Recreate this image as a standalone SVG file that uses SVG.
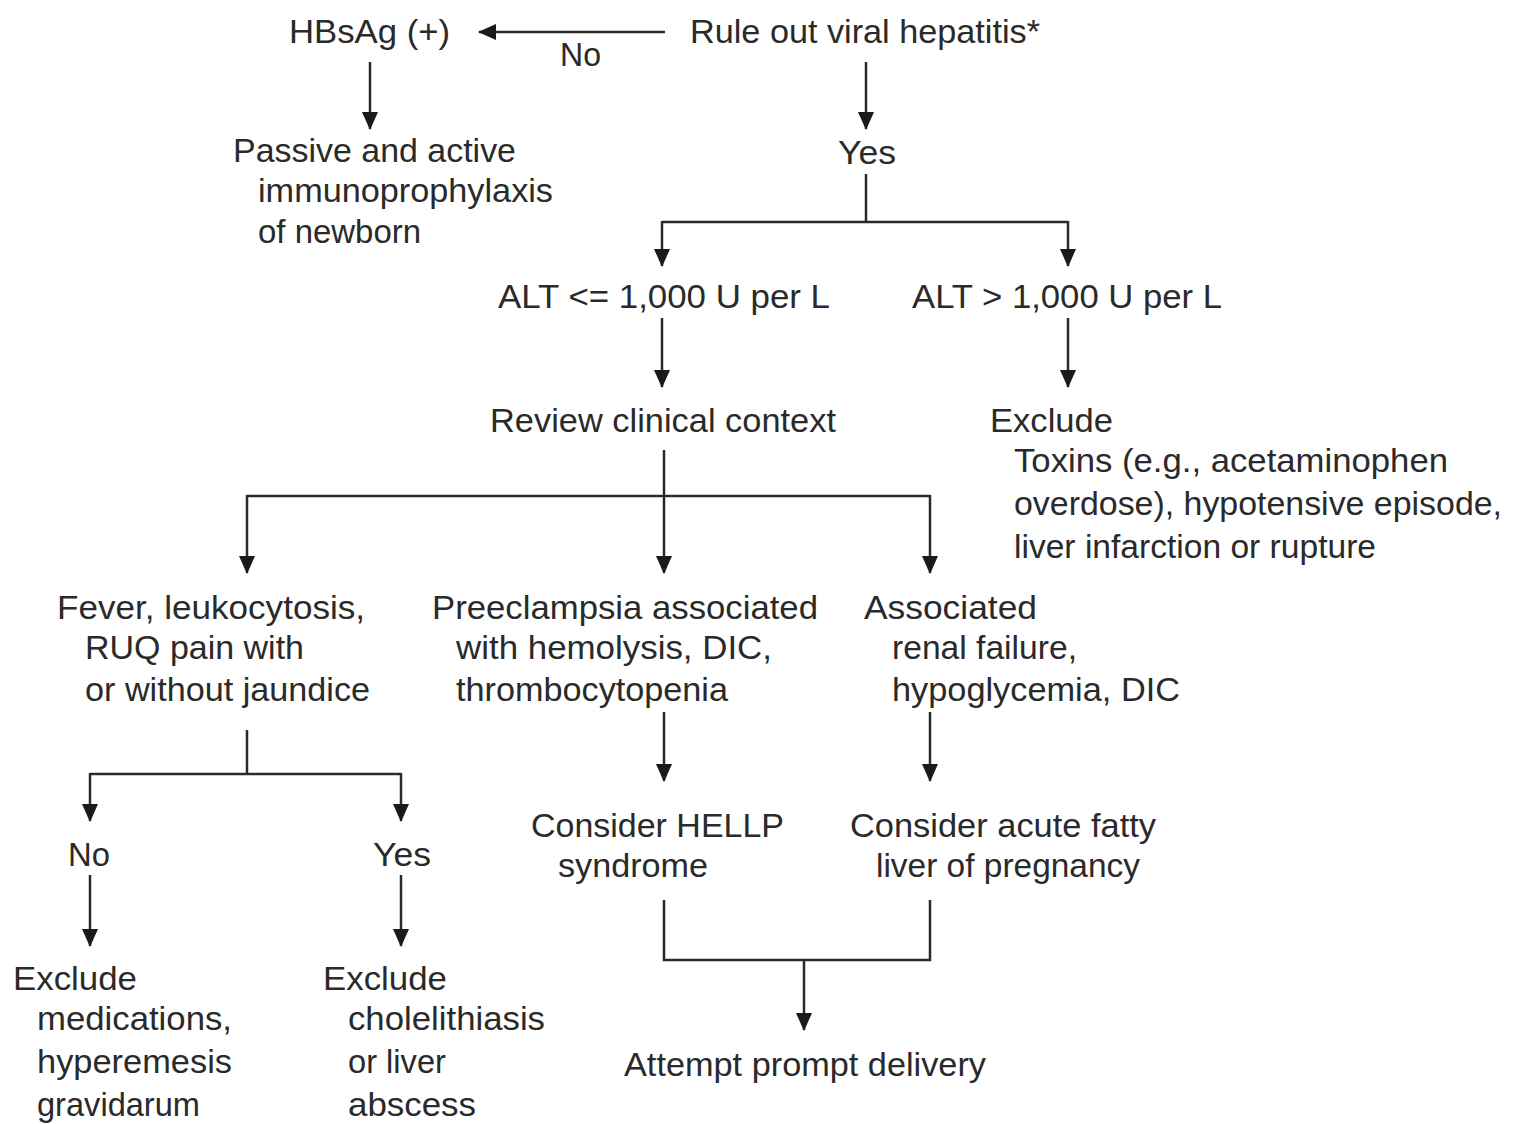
<svg xmlns="http://www.w3.org/2000/svg" width="1517" height="1124" viewBox="0 0 1517 1124">
<defs>
<marker id="ah" markerUnits="userSpaceOnUse" markerWidth="18" markerHeight="16" viewBox="0 0 18 16" refX="17" refY="8" orient="auto">
<path d="M0,0 L18,8 L0,16 Z" fill="#1a1a1a"/>
</marker>
</defs>
<style>
text{font-family:"Liberation Sans",Arial,sans-serif;font-size:33px;fill:#2a2a2a}
.c line,.c path{stroke:#2a2a2a;stroke-width:2.5;fill:none}
</style>
<rect width="1517" height="1124" fill="#fff"/>
<g class="c" id="connectors">
<line x1="665" y1="32" x2="479" y2="32" marker-end="url(#ah)"/>
<line x1="370" y1="62" x2="370" y2="129" marker-end="url(#ah)"/>
<line x1="866" y1="62" x2="866" y2="129" marker-end="url(#ah)"/>
<line x1="866" y1="174" x2="866" y2="222"/>
<line x1="662" y1="222" x2="1068" y2="222"/>
<line x1="662" y1="221" x2="662" y2="266" marker-end="url(#ah)"/>
<line x1="1068" y1="221" x2="1068" y2="266" marker-end="url(#ah)"/>
<line x1="662" y1="318" x2="662" y2="387" marker-end="url(#ah)"/>
<line x1="1068" y1="318" x2="1068" y2="387" marker-end="url(#ah)"/>
<line x1="664" y1="450" x2="664" y2="573" marker-end="url(#ah)"/>
<line x1="247" y1="496" x2="930" y2="496"/>
<line x1="247" y1="495" x2="247" y2="573" marker-end="url(#ah)"/>
<line x1="930" y1="495" x2="930" y2="573" marker-end="url(#ah)"/>
<line x1="247" y1="730" x2="247" y2="774"/>
<line x1="90" y1="774" x2="401" y2="774"/>
<line x1="90" y1="773" x2="90" y2="821" marker-end="url(#ah)"/>
<line x1="401" y1="773" x2="401" y2="821" marker-end="url(#ah)"/>
<line x1="90" y1="875" x2="90" y2="946" marker-end="url(#ah)"/>
<line x1="401" y1="875" x2="401" y2="946" marker-end="url(#ah)"/>
<line x1="664" y1="712" x2="664" y2="781" marker-end="url(#ah)"/>
<line x1="930" y1="712" x2="930" y2="781" marker-end="url(#ah)"/>
<path d="M664,900 L664,960 L930,960 L930,900"/>
<line x1="804" y1="960" x2="804" y2="1030" marker-end="url(#ah)"/>
</g>
<g id="n-hbsag"><text x="289" y="43" textLength="161" lengthAdjust="spacingAndGlyphs">HBsAg (+)</text></g>
<g id="l-no1"><text x="560" y="66" textLength="41" lengthAdjust="spacingAndGlyphs">No</text></g>
<g id="n-rule"><text x="690" y="43" textLength="350" lengthAdjust="spacingAndGlyphs">Rule out viral hepatitis*</text></g>
<g id="n-passive">
<text x="233" y="162" textLength="283" lengthAdjust="spacingAndGlyphs">Passive and active</text>
<text x="258" y="202" textLength="295" lengthAdjust="spacingAndGlyphs">immunoprophylaxis</text>
<text x="258" y="243" textLength="163" lengthAdjust="spacingAndGlyphs">of newborn</text>
</g>
<g id="l-yes1"><text x="838" y="164" textLength="58" lengthAdjust="spacingAndGlyphs">Yes</text></g>
<g id="n-alt-low"><text x="498" y="308" textLength="332" lengthAdjust="spacingAndGlyphs">ALT &lt;= 1,000 U per L</text></g>
<g id="n-alt-high"><text x="912" y="308" textLength="310" lengthAdjust="spacingAndGlyphs">ALT &gt; 1,000 U per L</text></g>
<g id="n-review"><text x="490" y="432" textLength="346" lengthAdjust="spacingAndGlyphs">Review clinical context</text></g>
<g id="n-exclude-toxins">
<text x="990" y="432" textLength="123" lengthAdjust="spacingAndGlyphs">Exclude</text>
<text x="1014" y="472" textLength="434" lengthAdjust="spacingAndGlyphs">Toxins (e.g., acetaminophen</text>
<text x="1014" y="515" textLength="488" lengthAdjust="spacingAndGlyphs">overdose), hypotensive episode,</text>
<text x="1014" y="558" textLength="362" lengthAdjust="spacingAndGlyphs">liver infarction or rupture</text>
</g>
<g id="n-fever">
<text x="57" y="619" textLength="308" lengthAdjust="spacingAndGlyphs">Fever, leukocytosis,</text>
<text x="85" y="659" textLength="219" lengthAdjust="spacingAndGlyphs">RUQ pain with</text>
<text x="85" y="701" textLength="285" lengthAdjust="spacingAndGlyphs">or without jaundice</text>
</g>
<g id="n-preeclampsia">
<text x="432" y="619" textLength="386" lengthAdjust="spacingAndGlyphs">Preeclampsia associated</text>
<text x="456" y="659" textLength="316" lengthAdjust="spacingAndGlyphs">with hemolysis, DIC,</text>
<text x="456" y="701" textLength="272" lengthAdjust="spacingAndGlyphs">thrombocytopenia</text>
</g>
<g id="n-associated">
<text x="864" y="619" textLength="173" lengthAdjust="spacingAndGlyphs">Associated</text>
<text x="892" y="659" textLength="185" lengthAdjust="spacingAndGlyphs">renal failure,</text>
<text x="892" y="701" textLength="288" lengthAdjust="spacingAndGlyphs">hypoglycemia, DIC</text>
</g>
<g id="l-no2"><text x="68" y="866" textLength="42" lengthAdjust="spacingAndGlyphs">No</text></g>
<g id="l-yes2"><text x="373" y="866" textLength="58" lengthAdjust="spacingAndGlyphs">Yes</text></g>
<g id="n-exclude-meds">
<text x="13" y="990" textLength="124" lengthAdjust="spacingAndGlyphs">Exclude</text>
<text x="37" y="1030" textLength="195" lengthAdjust="spacingAndGlyphs">medications,</text>
<text x="37" y="1073" textLength="195" lengthAdjust="spacingAndGlyphs">hyperemesis</text>
<text x="37" y="1116" textLength="163" lengthAdjust="spacingAndGlyphs">gravidarum</text>
</g>
<g id="n-exclude-chole">
<text x="323" y="990" textLength="124" lengthAdjust="spacingAndGlyphs">Exclude</text>
<text x="348" y="1030" textLength="197" lengthAdjust="spacingAndGlyphs">cholelithiasis</text>
<text x="348" y="1073" textLength="98" lengthAdjust="spacingAndGlyphs">or liver</text>
<text x="348" y="1116" textLength="128" lengthAdjust="spacingAndGlyphs">abscess</text>
</g>
<g id="n-hellp">
<text x="531" y="837" textLength="253" lengthAdjust="spacingAndGlyphs">Consider HELLP</text>
<text x="558" y="877" textLength="150" lengthAdjust="spacingAndGlyphs">syndrome</text>
</g>
<g id="n-afl">
<text x="850" y="837" textLength="306" lengthAdjust="spacingAndGlyphs">Consider acute fatty</text>
<text x="876" y="877" textLength="264" lengthAdjust="spacingAndGlyphs">liver of pregnancy</text>
</g>
<g id="n-delivery"><text x="624" y="1076" textLength="362" lengthAdjust="spacingAndGlyphs">Attempt prompt delivery</text></g>
</svg>
